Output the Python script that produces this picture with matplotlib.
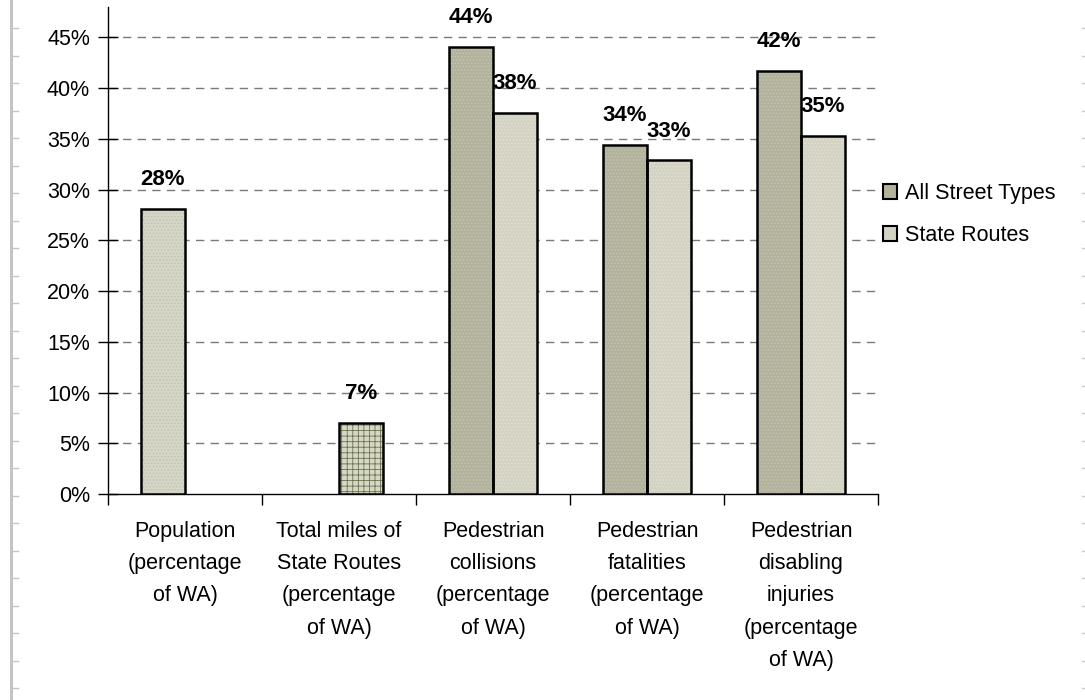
import matplotlib.pyplot as plt
from matplotlib.patches import Patch
from matplotlib.lines import Line2D

plt.rcParams['font.family'] = ['Liberation Sans', 'DejaVu Sans']
plt.rcParams['hatch.linewidth'] = 0.6

# --- data ---
categories = [
    "Population\n(percentage\nof WA)",
    "Total miles of\nState Routes\n(percentage\nof WA)",
    "Pedestrian\ncollisions\n(percentage\nof WA)",
    "Pedestrian\nfatalities\n(percentage\nof WA)",
    "Pedestrian\ndisabling\ninjuries\n(percentage\nof WA)",
]
all_street = [None, None, 44.1, 34.4, 41.7]
state_routes = [None, None, 37.6, 32.9, 35.3]
population = [28.1, None, None, None, None]
total_miles = [None, 7.0, None, None, None]
yticks = [0, 5, 10, 15, 20, 25, 30, 35, 40, 45]

FS = 15.5
width = 0.286

fig = plt.figure(figsize=(10.85, 7), dpi=100)
ax = fig.add_axes([108 / 1085, 206 / 700, 770 / 1085, 487 / 700])


def draw(vals, offset, face, hatch, hcolor):
    for i, v in enumerate(vals):
        if v is None:
            continue
        x = i + 0.5 + offset
        ax.bar(x, v, width, color=face, hatch=hatch, edgecolor=hcolor,
               linewidth=0, zorder=3)
        ax.bar(x, v, width, fill=False, edgecolor='black', linewidth=1.8, zorder=4)
        ax.annotate(f"{v:.0f}%", (x, v), xytext=(0, 21), textcoords='offset points',
                    ha='center', va='center', fontsize=FS + 0.5, fontweight='bold', zorder=5)


draw(all_street, -width / 2, '#b3b29c', '.....', '#c6c5b2')
draw(state_routes, width / 2, '#d3d2c3', '.....', '#e2e1d6')
draw(population, -width / 2, '#d6d6c8', '.....', '#c0c0ae')
draw(total_miles, width / 2, '#d6d8c4', '+++', '#6b7050')

ax.set_xlim(0, 5)
ax.set_ylim(0, 48)
ax.set_yticks(yticks)
ax.set_yticklabels([f"{t}%" for t in yticks], fontsize=FS)
ax.set_xticks([i + 0.5 for i in range(5)])
ax.set_xticklabels(categories, fontsize=FS, linespacing=1.7, va='top')
ax.set_xticks(range(6), minor=True)
ax.tick_params(axis='x', which='major', length=0, pad=19.5)
ax.tick_params(axis='x', which='minor', length=8, direction='out', width=1)
ax.tick_params(axis='y', direction='inout', length=14, width=1, pad=6)

for t in yticks[1:]:
    ax.axhline(t, color='#7a7a7a', linewidth=1, dashes=(6, 4.5), zorder=1)

for s in ['top', 'right']:
    ax.spines[s].set_visible(False)
for s in ['left', 'bottom']:
    ax.spines[s].set_linewidth(1)

handles = [
    Patch(facecolor='#b3b29c', edgecolor='black', linewidth=1.5, label='All Street Types'),
    Patch(facecolor='#d3d2c3', edgecolor='black', linewidth=1.5, label='State Routes'),
]
fig.legend(handles=handles, loc='upper left', bbox_to_anchor=(883 / 1085, 1 - 183 / 700),
           frameon=False, fontsize=FS, handlelength=0.64, handleheight=0.64,
           handletextpad=0.4, labelspacing=0.98, borderpad=0, borderaxespad=0)

# page ruler decorations at the edges
ov = fig.add_axes([0, 0, 1, 1], facecolor='none')
ov.set_xlim(0, 1085)
ov.set_ylim(700, 0)
ov.axis('off')
ov.add_line(Line2D([10.5, 10.5], [0, 700], color='#c4c4c4', linewidth=2.2))
for k in range(26):
    y = 28 + 27.5 * k
    ov.add_line(Line2D([11, 18], [y, y], color='#c4c4c4', linewidth=1))
    ov.add_line(Line2D([1082, 1084], [y, y], color='#cccccc', linewidth=1))

plt.savefig('out.png', dpi=100)
